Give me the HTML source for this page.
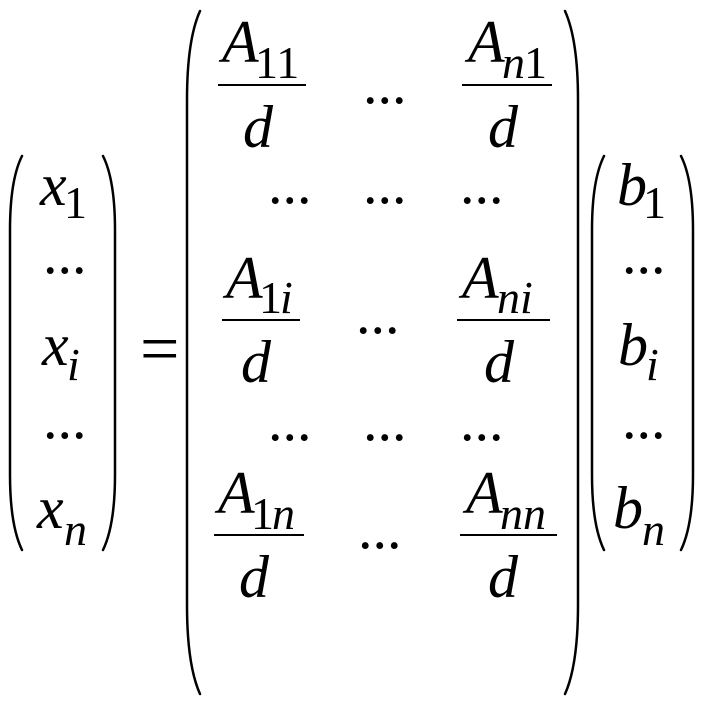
<!DOCTYPE html>
<html><head><meta charset="utf-8"><style>
html,body{margin:0;padding:0;background:#fff;}
svg{display:block;}
text{font-family:"Liberation Serif",serif;fill:#000;}
.m{font-size:60px;font-style:italic;}
.s{font-size:46px;font-style:italic;}
.u{font-size:46px;}
.d{font-size:58px;}
</style></head><body>
<svg width="709" height="705" viewBox="0 0 709 705" xmlns="http://www.w3.org/2000/svg">
<g fill="none" stroke="#000" stroke-width="2.5" stroke-linecap="round">
<path d="M22 156 Q10 180 10 230 L10 475 Q10 525 22 550"/>
<path d="M103 156 Q115 180 115 230 L115 475 Q115 525 103 550"/>
<path d="M200 11 Q187 40 187 100 L187 605 Q187 665 200 694"/>
<path d="M565 11 Q578 40 578 100 L578 605 Q578 665 565 694"/>
<path d="M604 156 Q592 180 592 230 L592 475 Q592 525 604 550"/>
<path d="M681 156 Q693 180 693 230 L693 475 Q693 525 681 550"/>
</g>
<g stroke="#000" stroke-width="2">
<line x1="218" y1="85" x2="306" y2="85"/>
<line x1="462" y1="85" x2="552" y2="85"/>
<line x1="222" y1="320" x2="300" y2="320"/>
<line x1="457" y1="320" x2="550" y2="320"/>
<line x1="214" y1="535" x2="304" y2="535"/>
<line x1="460" y1="535" x2="557" y2="535"/>
</g>
<text class="m" x="40" y="205">x</text><text class="u" x="64" y="218">1</text>
<text class="d" x="43" y="273">...</text>
<text class="m" x="42" y="365">x</text><text class="s" x="67" y="380">i</text>
<text class="d" x="43" y="438">...</text>
<text class="m" x="37" y="528">x</text><text class="s" x="64" y="545">n</text>
<text x="140" y="372" style="font-size:70px">=</text>
<text class="m" x="222" y="62">A</text><text class="u" x="255" y="78">11</text>
<text class="m" x="243" y="147">d</text>
<text class="d" x="363" y="103">...</text>
<text class="m" x="468" y="62">A</text><text class="s" x="502" y="78">n</text><text class="u" x="524" y="78">1</text>
<text class="m" x="488" y="147">d</text>
<text class="d" x="268" y="203">...</text>
<text class="d" x="363" y="203">...</text>
<text class="d" x="460" y="203">...</text>
<text class="m" x="226" y="298">A</text><text class="u" x="259" y="313">1</text><text class="s" x="280" y="313">i</text>
<text class="m" x="241" y="382">d</text>
<text class="d" x="356" y="333">...</text>
<text class="m" x="462" y="298">A</text><text class="s" x="497" y="313">ni</text>
<text class="m" x="484" y="382">d</text>
<text class="d" x="268" y="440">...</text>
<text class="d" x="363" y="440">...</text>
<text class="d" x="460" y="440">...</text>
<text class="m" x="218" y="513">A</text><text class="u" x="251" y="529">1</text><text class="s" x="272" y="529">n</text>
<text class="m" x="239" y="597">d</text>
<text class="d" x="358" y="548">...</text>
<text class="m" x="466" y="513">A</text><text class="s" x="500" y="529">nn</text>
<text class="m" x="488" y="597">d</text>
<text class="m" x="617" y="205">b</text><text class="u" x="643" y="218">1</text>
<text class="d" x="622" y="273">...</text>
<text class="m" x="618" y="365">b</text><text class="s" x="646" y="380">i</text>
<text class="d" x="622" y="438">...</text>
<text class="m" x="613" y="528">b</text><text class="s" x="642" y="545">n</text>
</svg>
</body></html>
